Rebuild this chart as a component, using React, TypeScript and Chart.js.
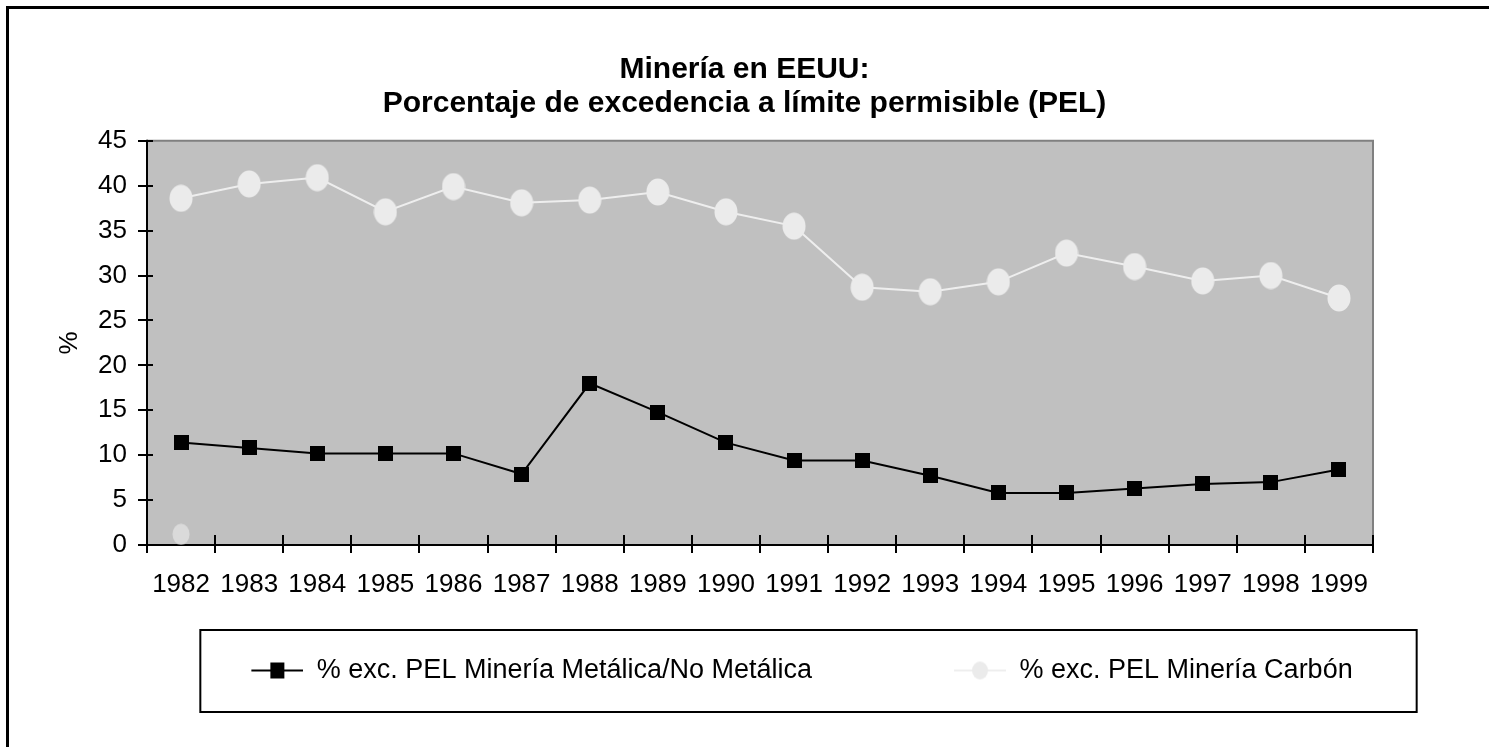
import React, { useEffect, useRef } from 'react';
import { Chart, registerables } from 'chart.js';

Chart.register(...registerables);

const years = ['1982', '1983', '1984', '1985', '1986', '1987', '1988', '1989', '1990', '1991', '1992', '1993', '1994', '1995', '1996', '1997', '1998', '1999'];
const metalica = [11.4, 10.8, 10.2, 10.2, 10.2, 7.9, 18.0, 14.8, 11.4, 9.4, 9.4, 7.7, 5.8, 5.8, 6.3, 6.8, 7.0, 8.4];
const carbon = [38.6, 40.2, 40.9, 37.1, 39.9, 38.1, 38.4, 39.3, 37.1, 35.5, 28.7, 28.2, 29.3, 32.5, 31.0, 29.4, 30.0, 27.5];
const stray = [1.2, null, null, null, null, null, null, null, null, null, null, null, null, null, null, null, null, null];
const yTicks = [0, 5, 10, 15, 20, 25, 30, 35, 40, 45];

const titleLines = ['Minería en EEUU:', 'Porcentaje de excedencia a límite permisible (PEL)'];
const seriesNames = ['% exc. PEL Minería Metálica/No Metálica', '% exc. PEL Minería Carbón'];

const FONT = '"Liberation Sans", Arial, sans-serif';
const LEG_MARGIN = 115;
const LEG_SAMPLE = 52;
const LEG_PAD = 27;
const LEG_BOX_H = 82;

function ellipseImg(w: number, h: number, color: string) {
  const c = document.createElement('canvas');
  c.width = w; c.height = h;
  const g = c.getContext('2d')!;
  g.fillStyle = color;
  g.beginPath();
  g.ellipse(w / 2, h / 2, w / 2 - 0.5, h / 2 - 0.5, 0, 0, Math.PI * 2);
  g.fill();
  return c;
}
function squareImg(w: number, h: number, color: string) {
  const c = document.createElement('canvas');
  c.width = w; c.height = h;
  const g = c.getContext('2d')!;
  g.fillStyle = color;
  g.fillRect(0, 0, w, h);
  return c;
}
function legendImg(kind: 'square' | 'circle') {
  const c = document.createElement('canvas');
  c.width = LEG_MARGIN + LEG_SAMPLE; c.height = 22;
  const g = c.getContext('2d')!;
  g.strokeStyle = kind === 'square' ? '#000000' : '#EEEEEE';
  g.lineWidth = 2;
  g.beginPath(); g.moveTo(LEG_MARGIN, 11); g.lineTo(LEG_MARGIN + LEG_SAMPLE, 11); g.stroke();
  const cx = LEG_MARGIN + LEG_SAMPLE / 2;
  if (kind === 'square') {
    g.fillStyle = '#000000';
    g.fillRect(cx - 7, 3, 14, 16);
  } else {
    g.fillStyle = '#EBEBEB';
    g.beginPath(); g.ellipse(cx, 11, 8, 9, 0, 0, Math.PI * 2); g.fill();
  }
  return c;
}

const framePlugin = {
  id: 'frame',
  beforeDatasetsDraw(chart: any) {
    const { ctx, chartArea: a } = chart;
    const xs = chart.scales.x;
    const ys = chart.scales.y;
    ctx.save();
    ctx.fillStyle = '#C0C0C0';
    ctx.fillRect(a.left, a.top, a.right - a.left, a.bottom - a.top);
    ctx.lineWidth = 2;
    ctx.strokeStyle = '#808080';
    ctx.beginPath();
    ctx.moveTo(a.left, a.top); ctx.lineTo(a.right, a.top); ctx.lineTo(a.right, a.bottom);
    ctx.stroke();
    ctx.strokeStyle = '#000000';
    ctx.beginPath();
    ctx.moveTo(a.left, a.top - 1); ctx.lineTo(a.left, a.bottom); ctx.lineTo(a.right + 1, a.bottom);
    ctx.stroke();
    ctx.beginPath();
    yTicks.forEach((v) => {
      const y = Math.round(ys.getPixelForValue(v));
      ctx.moveTo(a.left - 9, y); ctx.lineTo(a.left + 6, y);
    });
    for (let i = 0; i <= years.length; i++) {
      const x = Math.round(xs.getPixelForValue(i - 0.5));
      ctx.moveTo(x, a.bottom - 10); ctx.lineTo(x, a.bottom + 8);
    }
    ctx.stroke();
    ctx.restore();
  },
  afterDraw(chart: any) {
    const lg = chart.legend;
    if (!lg || !lg.legendHitBoxes || lg.legendHitBoxes.length < 2) return;
    const hb = lg.legendHitBoxes;
    const left = hb[0].left + LEG_MARGIN - 51;
    const last = hb[hb.length - 1];
    const right = last.left + last.width + 64;
    const { ctx } = chart;
    ctx.save();
    ctx.strokeStyle = '#000000';
    ctx.lineWidth = 2;
    ctx.strokeRect(left, lg.top, right - left, LEG_BOX_H);
    ctx.restore();
  },
};

export default function App() {
  const ref = useRef<HTMLCanvasElement | null>(null);
  useEffect(() => {
    if (!ref.current) return;
    const legImgs = [legendImg('square'), legendImg('circle')];
    const chart = new Chart(ref.current, {
      type: 'line',
      data: {
        labels: years,
        datasets: [
          {
            label: seriesNames[0],
            data: metalica,
            borderColor: '#000000',
            borderWidth: 2,
            pointStyle: squareImg(15, 15, '#000000') as any,
            pointRadius: 8,
            tension: 0,
            clip: false as any,
          },
          {
            label: seriesNames[1],
            data: carbon,
            borderColor: '#EEEEEE',
            borderWidth: 2,
            pointStyle: ellipseImg(24, 28, '#EBEBEB') as any,
            pointRadius: 12,
            tension: 0,
            clip: false as any,
          },
          {
            label: '',
            data: stray as any,
            showLine: false,
            borderColor: '#DADADA',
            pointStyle: ellipseImg(18, 22, '#DADADA') as any,
            pointRadius: 10,
            clip: false as any,
          },
        ],
      },
      options: {
        responsive: false,
        animation: false,
        events: [],
        layout: { padding: { left: 0, right: 0, top: 0, bottom: 53 } },
        font: { family: FONT } as any,
        plugins: {
          tooltip: { enabled: false },
          title: {
            display: true,
            text: titleLines,
            color: '#000000',
            font: { family: FONT, size: 30, weight: 'bold', lineHeight: 1.13 },
            padding: { top: 53, bottom: 20 },
          },
          legend: {
            display: true,
            position: 'bottom',
            labels: {
              usePointStyle: true,
              pointStyleWidth: LEG_MARGIN + LEG_SAMPLE,
              padding: LEG_PAD,
              color: '#000000',
              font: { family: FONT, size: 27 },
              generateLabels: () =>
                seriesNames.map((name, i) => ({
                  text: name,
                  fillStyle: 'rgba(0,0,0,0)',
                  strokeStyle: 'rgba(0,0,0,0)',
                  lineWidth: 0,
                  pointStyle: legImgs[i] as any,
                  hidden: false,
                  datasetIndex: i,
                  fontColor: '#000000',
                })),
            },
          },
        },
        scales: {
          x: {
            type: 'category',
            offset: true,
            grid: { display: false, drawTicks: false },
            border: { display: false },
            ticks: {
              autoSkip: false,
              maxRotation: 0,
              color: '#000000',
              padding: 24,
              font: { family: FONT, size: 26 },
            },
            afterFit: (s: any) => { s.height = 85; },
          },
          y: {
            min: 0,
            max: 45,
            grid: { display: false, drawTicks: false },
            border: { display: false },
            ticks: {
              stepSize: 5,
              color: '#000000',
              padding: 20,
              font: { family: FONT, size: 26 },
            },
            title: {
              display: true,
              text: '%',
              color: '#000000',
              font: { family: FONT, size: 26 },
              padding: { top: 54, bottom: 0 },
            },
            afterFit: (s: any) => { s.width = 147; },
          },
          y2: {
            position: 'right',
            display: true,
            grid: { display: false, drawTicks: false },
            border: { display: false },
            ticks: { display: false },
            afterFit: (s: any) => { s.width = 116; },
          },
        },
      } as any,
      plugins: [framePlugin],
    });
    return () => chart.destroy();
  }, []);

  return (
    <div style={{ position: 'fixed', left: 0, top: 0, width: 1489, height: 747, background: '#FFFFFF' }}>
      <canvas ref={ref} width={1489} height={747} style={{ display: 'block' }} />
      <div
        style={{
          position: 'absolute',
          left: 6,
          top: 6,
          width: 1489,
          height: 747,
          borderLeft: '3px solid #000',
          borderTop: '3px solid #000',
          pointerEvents: 'none',
        }}
      />
    </div>
  );
}
